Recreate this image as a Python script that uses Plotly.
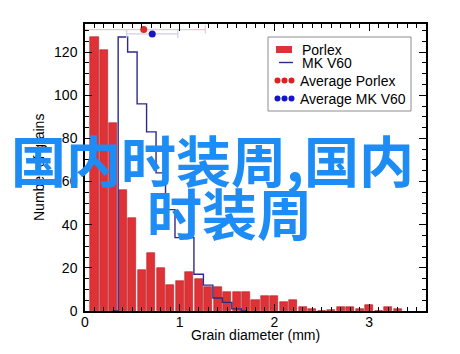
import plotly.graph_objects as go

# ---- data ----
porlex_centers = [0.1, 0.2, 0.3, 0.4, 0.5, 0.6, 0.7, 0.8, 0.9, 1.0, 1.1, 1.2, 1.3, 1.4, 1.5, 1.6, 1.7,
                  1.8, 1.9, 2.0, 2.1, 2.2, 2.3, 2.4, 2.5, 2.6, 2.7, 2.8, 2.9, 3.0, 3.1, 3.2, 3.3]
porlex_counts = [127, 121, 87, 56, 43, 19, 27, 20, 12, 14, 18, 15, 11, 11, 9, 9, 9,
                 5, 7, 7, 4, 5, 2, 1, 0, 0.5, 2, 2, 1, 3, 0, 2, 1]

mk_centers = [0.3, 0.4, 0.5, 0.6, 0.7, 0.8, 0.9, 1.0, 1.1, 1.2, 1.3, 1.4, 1.5, 1.6, 1.7]
mk_counts = [0, 127, 120, 96, 83, 64, 47, 34, 34, 17, 12, 6, 4, 1, 0]

avg_porlex = {"x": 0.62, "y": 130.4, "err": 0.65}
avg_mk = {"x": 0.71, "y": 128.4, "err": 0.27}

legend_labels = ["Porlex", "MK V60", "Average Porlex", "Average MK V60"]
x_title = "Grain diameter (mm)"
y_title = "Number of grains"
watermark_lines = ["国内时装周,国内", "时装周"]

# ---- layout geometry (pixels) ----
W, H = 460, 354
ML, MR, MT, MB = 85, 34, 24, 43
PW, PH = W - ML - MR, H - MT - MB


def px(xp):
    return (xp - ML) / PW


def py(yp):
    return (H - MB - yp) / PH


FONT = "Liberation Sans, Arial, Helvetica, sans-serif"
RED = "#df3236"
NAVY = "#2e2a8c"

fig = go.Figure()

fig.add_trace(go.Bar(
    x=porlex_centers, y=porlex_counts, width=0.085,
    marker=dict(color=RED, line=dict(color="#b52028", width=0.6)),
    showlegend=False,
))

fig.add_trace(go.Scatter(
    x=mk_centers, y=mk_counts, mode="lines",
    line=dict(color=NAVY, width=1.4, shape="hvh"),
    showlegend=False,
))

fig.add_trace(go.Scatter(
    x=[avg_porlex["x"]], y=[avg_porlex["y"]], mode="markers",
    marker=dict(color="#e02828", size=7),
    error_x=dict(type="constant", value=avg_porlex["err"], color="#ecc8cc", thickness=1.2, width=4),
    showlegend=False,
))
fig.add_trace(go.Scatter(
    x=[avg_mk["x"]], y=[avg_mk["y"]], mode="markers",
    marker=dict(color="#1414c8", size=7),
    error_x=dict(type="constant", value=avg_mk["err"], color="#cfcfe6", thickness=1.2, width=4),
    showlegend=False,
))

axis_common = dict(
    showline=True, linecolor="black", linewidth=1.5, mirror="ticks",
    ticks="inside", ticklen=7, tickwidth=1, tickcolor="black",
    showgrid=False, zeroline=False,
    tickfont=dict(family=FONT, size=14, color="black"),
)

fig.update_xaxes(range=[0, 3.6], tick0=0, dtick=1, ticklabelstandoff=-3,
                 minor=dict(dtick=0.1, ticks="inside", ticklen=4, tickcolor="black", showgrid=False),
                 **axis_common)
fig.update_yaxes(range=[0, 133], tick0=0, dtick=20, ticklabelstandoff=3,
                 minor=dict(dtick=5, ticks="inside", ticklen=4, tickcolor="black", showgrid=False),
                 **axis_common)

shapes = []
annotations = []

# custom legend
shapes.append(dict(type="rect", xref="paper", yref="paper",
                   x0=px(268), x1=px(411), y0=py(111), y1=py(37),
                   line=dict(color="#8c8c8c", width=1), fillcolor="white", layer="above"))
shapes.append(dict(type="rect", xref="paper", yref="paper",
                   x0=px(276), x1=px(292), y0=py(53), y1=py(46),
                   line=dict(width=0), fillcolor=RED, layer="above"))
shapes.append(dict(type="line", xref="paper", yref="paper",
                   x0=px(279), x1=px(293), y0=py(62.5), y1=py(62.5),
                   line=dict(color=NAVY, width=1.4), layer="above"))
for cy, col in [(80.5, "#e02020"), (98.5, "#1414c8")]:
    for cx in [277.5, 284.5, 291.5]:
        shapes.append(dict(type="circle", xref="paper", yref="paper",
                           x0=px(cx - 3), x1=px(cx + 3), y0=py(cy + 3), y1=py(cy - 3),
                           line=dict(width=0), fillcolor=col, layer="above"))

for lab, (lx, ly) in zip(legend_labels, [(300, 49.5), (300, 63.5), (297.5, 81), (297.5, 98.5)]):
    annotations.append(dict(text=lab, xref="paper", yref="paper", x=px(lx), y=py(ly),
                            xanchor="left", yanchor="middle", showarrow=False,
                            font=dict(family=FONT, size=14, color="black")))

# axis titles
annotations.append(dict(text=x_title, xref="paper", yref="paper", x=px(255), y=py(335),
                        xanchor="center", yanchor="middle", showarrow=False,
                        font=dict(family=FONT, size=14, color="black")))
annotations.append(dict(text=y_title, xref="paper", yref="paper", x=px(39), y=py(168),
                        xanchor="center", yanchor="middle", showarrow=False, textangle=-90,
                        font=dict(family=FONT, size=14, color="black")))

# watermark text
for t, (cx, cy) in zip(watermark_lines, [(212.5, 158), (229.5, 211)]):
    annotations.append(dict(text=t, xref="paper", yref="paper", x=px(cx), y=py(cy),
                            xanchor="center", yanchor="middle", showarrow=False,
                            font=dict(family="Noto Sans CJK SC", size=55, color="#1e8cf5", weight="bold")))

fig.update_layout(
    width=W, height=H,
    margin=dict(l=ML, r=MR, t=MT, b=MB),
    paper_bgcolor="white", plot_bgcolor="white",
    showlegend=False, bargap=0,
    shapes=shapes, annotations=annotations,
)

fig.write_html("out.html")
